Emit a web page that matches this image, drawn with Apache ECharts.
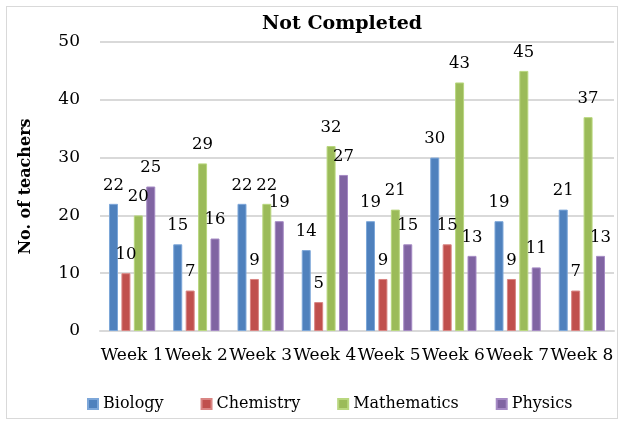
<!DOCTYPE html>
<html>
<head>
<meta charset="utf-8">
<script src="https://cdn.jsdelivr.net/npm/echarts@6/dist/echarts.min.js"></script>
<style>
  html, body { margin: 0; padding: 0; background: #fff; }
  #main { width: 621px; height: 423px; }
  .frame { position: absolute; left: 6px; top: 6px; width: 610px; height: 411px; border: 1px solid #d9d9d9; pointer-events: none; }
</style>
</head>
<body>
<div id="main"></div>
<div class="frame"></div>
<script>
const weeks = ['Week 1', 'Week 2', 'Week 3', 'Week 4', 'Week 5', 'Week 6', 'Week 7', 'Week 8']
const biology = [22, 15, 22, 14, 19, 30, 19, 21]
const chemistry = [10, 7, 9, 5, 9, 15, 9, 7]
const mathematics = [20, 29, 22, 32, 21, 43, 45, 37]
const physics = [25, 16, 19, 27, 15, 13, 11, 13]

const font = 'DejaVu Serif'
const colors = ['#4F81BD', '#C0504D', '#9BBB59', '#8064A2']
const borders = ['#7da7d9', '#d98583', '#b9d77f', '#a58ac4']

function bar(name, data, i) {
  return {
    name: name,
    type: 'bar',
    data: data,
    barWidth: 9,
    barGap: '38%',
    itemStyle: { color: colors[i], borderColor: borders[i], borderWidth: 1 },
    label: {
      show: true,
      position: 'top',
      distance: 10,
      color: '#000',
      fontFamily: font,
      fontSize: 16.5
    }
  }
}

const myChart = echarts.init(document.getElementById('main'))
myChart.setOption({
  animation: false,
  title: {
    text: 'Not Completed',
    left: 337,
    top: 10,
    textAlign: 'center',
    textStyle: { fontFamily: font, fontSize: 19, fontWeight: 'bold', color: '#000' }
  },
  legend: {
    bottom: 6,
    left: 82,
    itemWidth: 10,
    itemHeight: 10,
    itemGap: 37,
    icon: 'rect',
    textStyle: { fontFamily: font, fontSize: 16, color: '#000' }
  },
  grid: { left: 100, right: 7, top: 42, bottom: 92 },
  xAxis: {
    type: 'category',
    data: weeks,
    axisTick: { show: false },
    axisLine: { lineStyle: { color: '#d9d9d9', width: 2 } },
    axisLabel: { fontFamily: font, fontSize: 17, color: '#000', margin: 16, interval: 0 }
  },
  yAxis: {
    type: 'value',
    min: 0,
    max: 50,
    interval: 10,
    name: 'No. of teachers',
    nameLocation: 'middle',
    nameGap: 66,
    nameTextStyle: { fontFamily: font, fontSize: 16, fontWeight: 'bold', color: '#000' },
    axisLine: { show: false },
    axisTick: { show: false },
    axisLabel: { fontFamily: font, fontSize: 17, color: '#000', margin: 20 },
    splitLine: { lineStyle: { color: '#d9d9d9', width: 2 } }
  },
  series: [
    bar('Biology', biology, 0),
    bar('Chemistry', chemistry, 1),
    bar('Mathematics', mathematics, 2),
    bar('Physics', physics, 3)
  ]
})
</script>
</body>
</html>
